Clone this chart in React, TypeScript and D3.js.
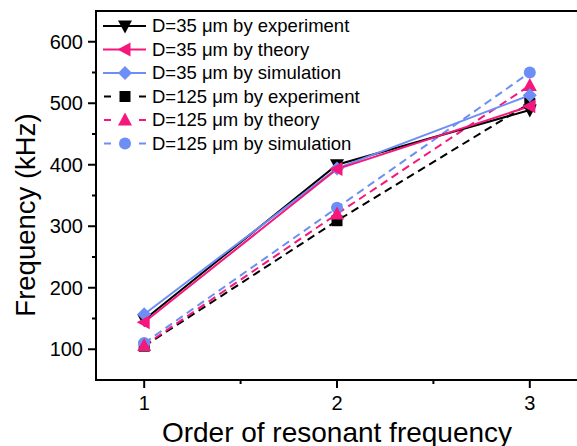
import React from "react";
import * as d3 from "d3";

const orders = [1, 2, 3];
const exp35 = [148, 400, 489];
const theory35 = [144, 393, 495];
const sim35 = [157, 394, 513];
const exp125 = [105, 309, 500];
const theory125 = [106, 320, 529];
const sim125 = [110, 330, 550];
const yTicks = [100, 200, 300, 400, 500, 600];
const yMinor = [150, 250, 350, 450, 550];
const xTicks = [1, 2, 3];
const xMinor = [1.5, 2.5];
const legendLabels = [
  "D=35 μm by experiment",
  "D=35 μm by theory",
  "D=35 μm by simulation",
  "D=125 μm by experiment",
  "D=125 μm by theory",
  "D=125 μm by simulation",
];

const BLACK = "#000000";
const PINK = "#F5177C";
const BLUE = "#6C8EF5";

type Series = {
  values: number[];
  color: string;
  dashed: boolean;
  marker: string;
  label: string;
};

const series: Series[] = [
  { values: exp35, color: BLACK, dashed: false, marker: "down", label: legendLabels[0] },
  { values: theory35, color: PINK, dashed: false, marker: "left", label: legendLabels[1] },
  { values: sim35, color: BLUE, dashed: false, marker: "diamond", label: legendLabels[2] },
  { values: exp125, color: BLACK, dashed: true, marker: "square", label: legendLabels[3] },
  { values: theory125, color: PINK, dashed: true, marker: "up", label: legendLabels[4] },
  { values: sim125, color: BLUE, dashed: true, marker: "circle", label: legendLabels[5] },
];

const drawOrder = [3, 5, 4, 0, 2, 1];

function Marker({ kind, x, y, color }: { kind: string; x: number; y: number; color: string }) {
  const s = 6.5;
  if (kind === "circle") return <circle cx={x} cy={y} r={6} fill={color} />;
  if (kind === "square") return <rect x={x - 5.5} y={y - 5.5} width={11} height={11} fill={color} />;
  if (kind === "diamond")
    return <path d={`M${x},${y - 7}L${x + 7},${y}L${x},${y + 7}L${x - 7},${y}Z`} fill={color} />;
  if (kind === "up")
    return <path d={`M${x},${y - s - 1}L${x + s + 0.5},${y + s - 1}L${x - s - 0.5},${y + s - 1}Z`} fill={color} />;
  if (kind === "down")
    return <path d={`M${x},${y + s + 1}L${x + s + 0.5},${y - s + 1}L${x - s - 0.5},${y - s + 1}Z`} fill={color} />;
  return <path d={`M${x - s - 1},${y}L${x + s - 1},${y - s - 0.5}L${x + s - 1},${y + s + 0.5}Z`} fill={color} />;
}

export default function App() {
  const W = 577;
  const H = 446;
  const left = 96;
  const top = 11;
  const bottom = 380;
  const right = 578;
  const x = d3.scaleLinear().domain([0.75, 3.25]).range([left, right]);
  const y = d3.scaleLinear().domain([50, 650]).range([bottom, top]);
  const line = d3
    .line<number>()
    .x((_, i) => x(orders[i]))
    .y((d) => y(d));
  const font = "Arial, 'Liberation Sans', sans-serif";

  return (
    <svg
      width={W}
      height={H}
      style={{ position: "absolute", left: 0, top: 0, background: "#fff" }}
      fontFamily={font}
    >
      <rect width={W} height={H} fill="#fff" />
      {drawOrder.map((si) => {
        const s = series[si];
        return (
          <path
            key={"l" + si}
            d={line(s.values) || ""}
            fill="none"
            stroke={s.color}
            strokeWidth={2}
            strokeDasharray={s.dashed ? "8,5" : undefined}
          />
        );
      })}
      {drawOrder.map((si) => {
        const s = series[si];
        return (
          <g key={"m" + si}>
            {s.values.map((v, i) => (
              <Marker key={i} kind={s.marker} x={x(orders[i])} y={y(v)} color={s.color} />
            ))}
          </g>
        );
      })}
      <line x1={left} x2={right} y1={top} y2={top} stroke="#000" strokeWidth={2} />
      <line x1={left} x2={right} y1={bottom} y2={bottom} stroke="#000" strokeWidth={2} />
      <line x1={left} x2={left} y1={top - 1} y2={bottom + 1} stroke="#000" strokeWidth={2} />
      {yTicks.map((t) => (
        <g key={"yt" + t}>
          <line x1={left - 8} x2={left} y1={y(t)} y2={y(t)} stroke="#000" strokeWidth={2} />
          <text x={left - 13} y={y(t)} dy="0.35em" textAnchor="end" fontSize={20}>
            {t}
          </text>
        </g>
      ))}
      {yMinor.map((t) => (
        <line key={"ym" + t} x1={left - 4} x2={left} y1={y(t)} y2={y(t)} stroke="#000" strokeWidth={2} />
      ))}
      {xTicks.map((t) => (
        <g key={"xt" + t}>
          <line x1={x(t)} x2={x(t)} y1={bottom} y2={bottom + 8} stroke="#000" strokeWidth={2} />
          <text x={x(t)} y={410} textAnchor="middle" fontSize={20}>
            {t}
          </text>
        </g>
      ))}
      {xMinor.map((t) => (
        <line key={"xm" + t} x1={x(t)} x2={x(t)} y1={bottom} y2={bottom + 4} stroke="#000" strokeWidth={2} />
      ))}
      <text x={337} y={442} textAnchor="middle" fontSize={28}>
        Order of resonant frequency
      </text>
      <text transform="translate(35,215) rotate(-90)" textAnchor="middle" fontSize={27.5}>
        Frequency (kHz)
      </text>
      {series.map((s, i) => {
        const ly = 26 + i * 23.5;
        return (
          <g key={"lg" + i}>
            {s.dashed ? (
              <>
                <line x1={104} x2={111} y1={ly} y2={ly} stroke={s.color} strokeWidth={2} />
                <line x1={139} x2={146} y1={ly} y2={ly} stroke={s.color} strokeWidth={2} />
              </>
            ) : (
              <line x1={103} x2={146} y1={ly} y2={ly} stroke={s.color} strokeWidth={2} />
            )}
            <Marker kind={s.marker} x={125} y={ly} color={s.color} />
            <text x={152} y={ly} dy="0.35em" fontSize={18.5}>
              {s.label}
            </text>
          </g>
        );
      })}
    </svg>
  );
}
